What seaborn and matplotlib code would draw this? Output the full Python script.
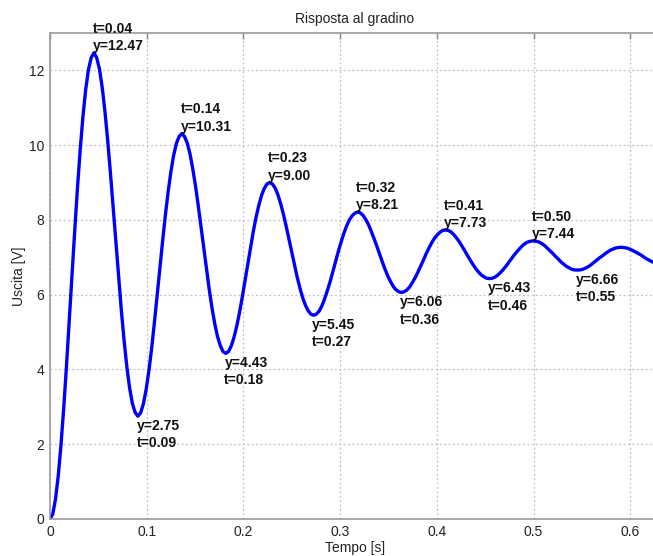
import numpy as np
import pandas as pd
import matplotlib
matplotlib.use('Agg')
import matplotlib.pyplot as plt
import seaborn as sns

# step response samples (sample step 0.00284 s)
dt = 0.00284
uscita = [0, 0.13, 0.53, 1.15, 1.98, 2.97, 4.09, 5.28, 6.51, 7.71, 8.85, 9.88, 10.77, 11.49, 12.02, 12.34,
          12.47, 12.34, 12.04, 11.55, 10.91, 10.13, 9.26, 8.33, 7.38, 6.45, 5.56, 4.76, 4.06, 3.50, 3.09, 2.85,
          2.75, 2.84, 3.08, 3.46, 3.96, 4.56, 5.24, 5.96, 6.70, 7.43, 8.12, 8.74, 9.28, 9.72, 10.04, 10.23,
          10.31, 10.23, 10.05, 9.76, 9.36, 8.90, 8.37, 7.81, 7.23, 6.67, 6.13, 5.64, 5.22, 4.88, 4.64, 4.48,
          4.43, 4.48, 4.63, 4.86, 5.16, 5.52, 5.93, 6.37, 6.82, 7.26, 7.68, 8.06, 8.38, 8.65, 8.84, 8.96,
          9.00, 8.96, 8.85, 8.67, 8.43, 8.15, 7.83, 7.49, 7.14, 6.80, 6.47, 6.18, 5.92, 5.72, 5.57, 5.48,
          5.45, 5.48, 5.56, 5.70, 5.89, 6.11, 6.35, 6.62, 6.89, 7.16, 7.41, 7.64, 7.84, 8.00, 8.11, 8.18,
          8.21, 8.19, 8.12, 8.01, 7.87, 7.69, 7.50, 7.30, 7.09, 6.88, 6.68, 6.50, 6.35, 6.22, 6.13, 6.08,
          6.06, 6.08, 6.13, 6.21, 6.33, 6.46, 6.61, 6.77, 6.93, 7.10, 7.25, 7.39, 7.51, 7.60, 7.67, 7.72,
          7.73, 7.72, 7.68, 7.61, 7.52, 7.42, 7.30, 7.18, 7.05, 6.93, 6.81, 6.70, 6.61, 6.53, 6.48, 6.44,
          6.43, 6.44, 6.47, 6.52, 6.59, 6.67, 6.76, 6.86, 6.96, 7.06, 7.15, 7.23, 7.31, 7.37, 7.41, 7.43,
          7.44, 7.43, 7.41, 7.37, 7.32, 7.25, 7.18, 7.11, 7.03, 6.96, 6.88, 6.82, 6.76, 6.72, 6.68, 6.662,
          6.66, 6.662, 6.68, 6.71, 6.75, 6.80, 6.86, 6.92, 6.98, 7.03, 7.09, 7.14, 7.19, 7.22, 7.25, 7.26,
          7.27, 7.26, 7.25, 7.22, 7.19, 7.15, 7.11, 7.07, 7.02, 6.97, 6.93, 6.89, 6.86]
tempo = np.arange(len(uscita)) * dt

# data tips
peak_t = ['0.04', '0.14', '0.23', '0.32', '0.41', '0.50']
peak_y = ['12.47', '10.31', '9.00', '8.21', '7.73', '7.44']
trough_t = ['0.09', '0.18', '0.27', '0.36', '0.46', '0.55']
trough_y = ['2.75', '4.43', '5.45', '6.06', '6.43', '6.66']

df = pd.DataFrame({'t': tempo, 'y': uscita})

sns.set_theme(style='white')
plt.rcParams['font.family'] = ['Liberation Sans', 'DejaVu Sans']

fig = plt.figure(figsize=(6.53, 5.56), dpi=100)
ax = fig.add_axes([50 / 653, 37 / 556, 610 / 653, 486 / 556])

sns.lineplot(data=df, x='t', y='y', color='#0000ff', linewidth=2.4, ax=ax)

ax.set_xlim(0, 610 / 967)
ax.set_ylim(0, 13)
ax.set_xticks(np.arange(0, 0.61, 0.1))
ax.set_xticklabels(['0', '0.1', '0.2', '0.3', '0.4', '0.5', '0.6'])
ax.set_yticks(np.arange(0, 13, 2))
ax.grid(True, linestyle=(0, (1.5, 2)), color='#c0c0c0', linewidth=0.9)
ax.tick_params(direction='in', length=4, color='#888888', width=1,
               top=True, right=True, labelsize=10, labelcolor='#222222', pad=4)
for s in ax.spines.values():
    s.set_color('#999999')
    s.set_linewidth(1.2)

ax.set_title('Risposta al gradino', fontsize=10, color='#222222', pad=7)
ax.set_xlabel('Tempo [s]', fontsize=10, color='#222222', labelpad=2)
ax.set_ylabel('Uscita [V]', fontsize=10, color='#222222', labelpad=2)

# locate extremes on the curve for the tips
y = np.array(uscita)
peaks = [i for i in range(1, len(y) - 1) if y[i] > y[i - 1] and y[i] >= y[i + 1]]
troughs = [i for i in range(1, len(y) - 1) if y[i] < y[i - 1] and y[i] <= y[i + 1]]

for i, tl, yl in zip(peaks, peak_t, peak_y):
    ax.annotate(f't={tl}\ny={yl}', (tempo[i], y[i]), xytext=(-1, 0),
                textcoords='offset points', ha='left', va='bottom',
                fontsize=10, fontweight='bold', color='#111111',
                linespacing=1.3, annotation_clip=False)
for i, tl, yl in zip(troughs, trough_t, trough_y):
    ax.annotate(f'y={yl}\nt={tl}', (tempo[i], y[i]), xytext=(-1, -2),
                textcoords='offset points', ha='left', va='top',
                fontsize=10, fontweight='bold', color='#111111',
                linespacing=1.3, annotation_clip=False)

fig.savefig('out.png', dpi=100)
